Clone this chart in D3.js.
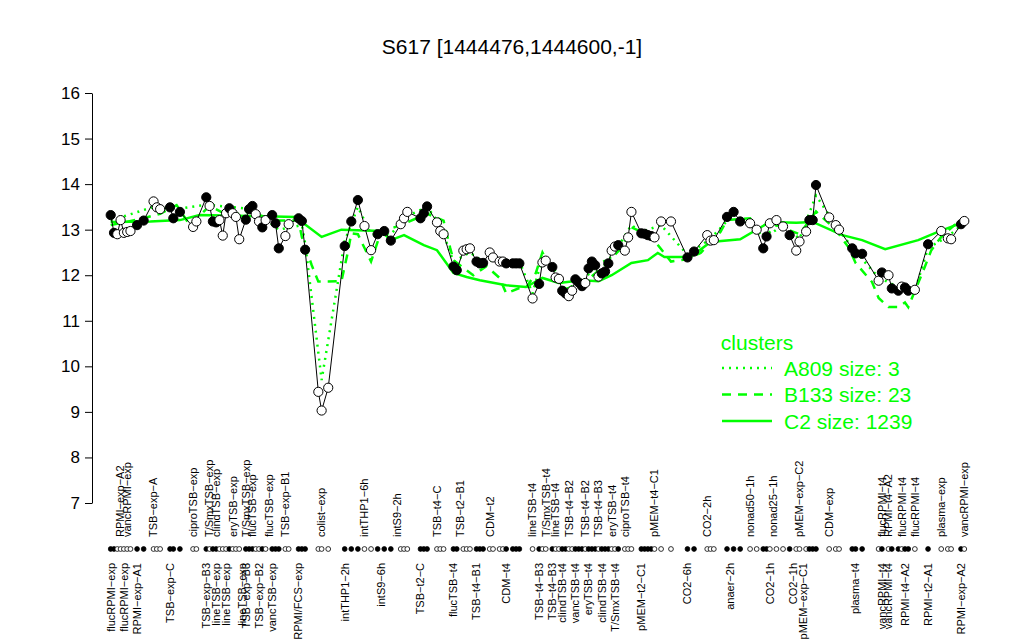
<!DOCTYPE html>
<html><head><meta charset="utf-8">
<script src="https://cdn.jsdelivr.net/npm/d3@7"></script>
<style>body{margin:0;background:#fff}svg{display:block;font-family:"Liberation Sans",Arial,Helvetica,sans-serif}</style>
</head><body><svg id="c" width="1024" height="640"></svg>
<script>
const chartTitle = "S617 [1444476,1444600,-1]";
const yTicks = [7,8,9,10,11,12,13,14,15,16];

// gene profile: sample position, expression value, filled(1)/open(0)
const geneIdx = [0,1,2,3,4,5,6,8,10,13,14,15,18,19,21,25,26,29,30,31,32,33,34,35,36,37,38,39,41,42,43,44,45,46,47,49,50,51,53,54,57,58,59,63,64,66,71,73,75,77,79,81,83,85,88,89,90,94,95,96,99,100,101,104,105,107,108,109,111,112,113,115,116,118,119,120,122,123,124,128,130,131,132,134,135,136,137,138,139,140,141,142,143,144,145,146,147,148,149,150,151,152,153,154,156,157,158,161,162,163,164,165,167,170,175,177,181,182,183,187,189,191,194,196,198,199,200,202,204,206,208,209,211,212,213,214,218,220,221,225,226,228,233,234,236,237,239,240,241,242,244,248,252,254,255,258,259];
const geneVal = [13.32,12.93,12.90,13.21,12.93,12.95,12.97,13.10,13.20,13.62,13.49,13.45,13.49,13.25,13.39,13.06,13.18,13.71,13.52,13.18,13.16,13.21,12.87,13.36,13.47,13.36,13.28,12.79,13.22,13.45,13.52,13.34,13.18,13.05,13.21,13.32,13.14,12.59,12.86,13.12,13.25,13.19,12.56,9.44,9.03,9.53,12.64,13.18,13.65,13.08,12.55,12.90,12.97,12.76,13.12,13.25,13.39,13.25,13.36,13.51,13.16,12.97,12.90,12.19,12.11,12.54,12.57,12.59,12.30,12.26,12.27,12.50,12.39,12.30,12.30,12.26,12.26,12.26,12.26,11.49,11.81,12.28,12.32,12.18,11.95,11.92,11.66,11.60,11.54,11.66,11.91,11.84,11.76,11.83,12.15,12.30,12.22,11.97,12.04,12.08,12.26,12.54,12.63,12.66,12.54,12.83,13.39,12.92,12.91,12.88,12.86,12.83,13.18,13.18,12.39,12.52,12.88,12.76,12.77,13.28,13.39,13.18,13.14,13.00,12.59,12.85,13.14,13.21,13.07,12.88,12.54,12.74,12.96,13.21,13.21,13.98,13.27,13.10,13.00,12.59,12.48,12.47,11.88,12.06,12.00,11.71,11.66,11.75,11.73,11.66,11.68,12.68,12.97,12.81,12.79,13.12,13.19];
const geneFilled = [1,1,0,0,0,0,0,1,1,0,0,0,1,1,1,0,0,1,0,1,1,0,0,0,1,0,0,0,1,1,1,0,0,1,0,1,1,1,0,0,1,1,1,0,0,0,1,1,1,0,0,1,1,1,0,0,0,1,1,1,0,0,0,1,1,0,0,0,1,1,1,0,0,0,0,1,1,1,1,0,1,0,0,1,0,0,1,1,0,0,1,1,1,0,1,1,1,0,1,1,1,0,0,1,0,0,0,1,1,1,1,0,0,0,1,1,0,0,0,1,1,1,0,0,1,1,0,0,0,1,0,0,0,1,1,1,0,0,0,1,1,1,0,1,0,1,1,0,1,1,0,1,0,0,0,1,0];

// cluster mean profiles (position, value)
const c2Idx = [0,12,21,27,42,56,64,70,82,85,89,95,99,104,108,112,120,126,131,136,143,148,152,158,163,166,168,176,182,191,200,208,213,222,228,235,245,251,259];
const c2Val = [13.17,13.18,13.21,13.32,13.30,13.28,12.84,13.00,12.97,12.77,12.88,12.66,12.55,12.05,11.96,11.89,11.78,11.74,11.94,11.83,11.89,11.87,12.00,12.27,12.33,12.49,12.40,12.40,12.73,12.79,13.17,13.15,13.17,12.88,12.77,12.57,12.77,12.95,13.17];
const b133Idx = [0,10,15,20,24,30,36,42,50,57,58,61,63,70,72,73,75,79,82,88,96,101,103,104,110,114,118,120,124,126,129,131,134,138,143,148,151,155,158,164,170,175,179,185,187,194,198,202,209,214,220,224,226,231,233,236,239,241,242,247,249,252,256,259];
const b133Val = [13.10,13.25,13.35,13.54,13.10,13.52,13.30,13.40,13.20,13.20,12.84,12.22,11.86,11.87,12.52,12.92,12.90,12.30,12.95,13.10,13.35,13.20,12.60,12.33,12.00,12.20,11.94,11.60,11.72,11.72,12.05,12.50,12.10,11.70,11.80,12.10,12.30,12.60,13.05,12.85,12.30,12.35,12.49,12.95,13.21,13.25,12.80,13.10,12.90,13.40,13.00,12.60,12.27,11.85,11.50,11.30,11.30,11.40,11.30,12.18,12.55,12.84,13.10,13.20];
const a809Idx = [0,13,20,29,43,51,58,59,64,71,75,79,85,90,96,100,104,109,113,119,124,128,131,134,138,143,147,152,158,161,167,175,182,189,196,199,204,209,214,220,225,233,240,244,248,254,259];
const a809Val = [13.20,13.50,13.45,13.55,13.45,13.00,13.10,12.70,9.70,12.75,13.50,12.90,12.90,13.30,13.50,13.10,12.30,12.50,12.30,12.35,12.30,11.60,12.40,12.20,11.70,11.85,12.20,12.40,13.10,12.95,13.10,12.45,12.80,13.35,13.00,12.85,13.10,12.80,13.75,13.10,12.60,11.95,11.70,11.65,12.60,12.85,13.15];

// sample labels
const bottomLabels = ["flucRPMI−exp","flucRPMI−exp","RPMI−exp−A1","TSB−exp−C","TSB−exp−B3","lineTSB−exp","lineTSB−exp","lineTSB−exp","TSB−exp−B3","TSB−exp−B2","vancTSB−exp","RPMI/FCS−exp","intTHP1−2h","intS9−6h","TSB−t2−C","flucTSB−t4","TSB−t4−B1","CDM−t4","TSB−t4−B3","TSB−t4−B3","clindTSB−t4","vancTSB−t4","eryTSB−t4","clindTSB−t4","T/SmxTSB−t4","pMEM−t2−C1","CO2−6h","anaer−2h","CO2−1h","CO2−1h","pMEM−exp−C1","plasma−t4","vancRPMI−t4","vancRPMI−t4","RPMI−t4−A2","RPMI−t2−A1","RPMI−exp−A2"];
const bottomIdx = [0,4,8,18,29,32,35,40,41,45,49,57,71,82,94,104,111,120,130,134,137,141,145,149,153,161,175,188,200,207,210,226,234,236,241,248,258];
const topLabels = ["RPMI−exp−A2","vancRPMI−exp","TSB−exp−A","ciproTSB−exp","T/SmxTSB−exp","clindTSB−exp","eryTSB−exp","T/SmxTSB−exp","flucTSB−exp","flucTSB−exp","TSB−exp−B1","colist−exp","intTHP1−6h","intS9−2h","TSB−t4−C","TSB−t2−B1","CDM−t2","lineTSB−t4","T/SmxTSB−t4","lineTSB−t4","TSB−t4−B2","TSB−t4−B2","TSB−t4−B3","eryTSB−t4","ciproTSB−t4","pMEM−t4−C1","CO2−2h","nonad50−1h","nonad25−1h","pMEM−exp−C2","CDM−exp","flucRPMI−t4","RPMI−t4−A2","flucRPMI−t4","flucRPMI−t4","plasma−exp","vancRPMI−exp"];
const topIdx = [3,5,13,25,30,32,37,41,43,48,53,64,77,87,99,106,115,128,132,135,139,144,148,152,156,165,181,194,201,209,218,234,236,240,244,252,259];

const legendNames = ["A809 size: 3","B133 size: 23","C2 size: 1239"];
const legendDash = ["2,5","9,7",null];

const GREEN = "#00ff00";
const svg = d3.select("#c");
const x = d3.scaleLinear().domain([0,259]).range([110.7,964.3]);
const y = d3.scaleLinear().domain([7,16]).range([503,93]);

// title
svg.append("text").attr("x",512).attr("y",54).attr("text-anchor","middle")
  .attr("font-size",21).attr("fill","#000").text(chartTitle);

// y axis
const ax = svg.append("g").attr("transform","translate(92,0)")
  .call(d3.axisLeft(y).tickValues(yTicks).tickSize(7).tickSizeOuter(0).tickPadding(5).tickFormat(d3.format("d")));
ax.selectAll("text").attr("font-size",17).attr("font-family","Liberation Sans, Arial, sans-serif").attr("fill","#000");
ax.selectAll("line,path").attr("stroke","#000");

function series(idx, val){ return idx.map((d,i)=>[d,val[i]]); }
const lineGen = d3.line().x(d=>x(d[0])).y(d=>y(d[1]));

// cluster lines
svg.append("path").datum(series(c2Idx,c2Val)).attr("d",lineGen)
  .attr("fill","none").attr("stroke",GREEN).attr("stroke-width",2.5);
svg.append("path").datum(series(b133Idx,b133Val)).attr("d",lineGen)
  .attr("fill","none").attr("stroke",GREEN).attr("stroke-width",2.5).attr("stroke-dasharray","9,7");
svg.append("path").datum(series(a809Idx,a809Val)).attr("d",lineGen)
  .attr("fill","none").attr("stroke",GREEN).attr("stroke-width",2.5).attr("stroke-dasharray","2,5");

// gene line + points
const gene = geneIdx.map((d,i)=>({i:d,v:geneVal[i],f:geneFilled[i]}));
svg.append("path").datum(gene.map(d=>[d.i,d.v])).attr("d",lineGen)
  .attr("fill","none").attr("stroke","#000").attr("stroke-width",1);
svg.append("g").selectAll("circle").data(gene).join("circle")
  .attr("cx",d=>x(d.i)).attr("cy",d=>y(d.v)).attr("r",4.6)
  .attr("fill",d=>d.f?"#000":"#fff").attr("stroke","#000").attr("stroke-width",1);

// marker row
svg.append("g").selectAll("circle").data(gene).join("circle")
  .attr("cx",d=>x(d.i)).attr("cy",549).attr("r",2.4)
  .attr("fill",d=>d.f?"#000":"#fff").attr("stroke","#000").attr("stroke-width",0.8);

// labels
svg.append("g").selectAll("text").data(bottomLabels).join("text")
  .attr("transform",(d,i)=>`translate(${x(bottomIdx[i])},563) rotate(-90)`)
  .attr("text-anchor","end").attr("dy","0.35em").attr("font-size",11).attr("fill","#000").text(d=>d);
svg.append("g").selectAll("text").data(topLabels).join("text")
  .attr("transform",(d,i)=>`translate(${x(topIdx[i])},537) rotate(-90)`)
  .attr("text-anchor","start").attr("dy","0.35em").attr("font-size",11).attr("fill","#000").text(d=>d);

// legend
const lg = svg.append("g");
lg.append("text").attr("x",757).attr("y",350).attr("text-anchor","middle")
  .attr("font-size",21).attr("fill",GREEN).text("clusters");
legendNames.forEach((n,i)=>{
  const yy = 368 + i*26.5;
  const ln = lg.append("line").attr("x1",722).attr("x2",772).attr("y1",yy).attr("y2",yy)
    .attr("stroke",GREEN).attr("stroke-width",2.5);
  if(legendDash[i]) ln.attr("stroke-dasharray",legendDash[i]);
  lg.append("text").attr("x",784).attr("y",yy+7.5).attr("font-size",21).attr("fill",GREEN).text(n);
});
</script>
</body></html>
